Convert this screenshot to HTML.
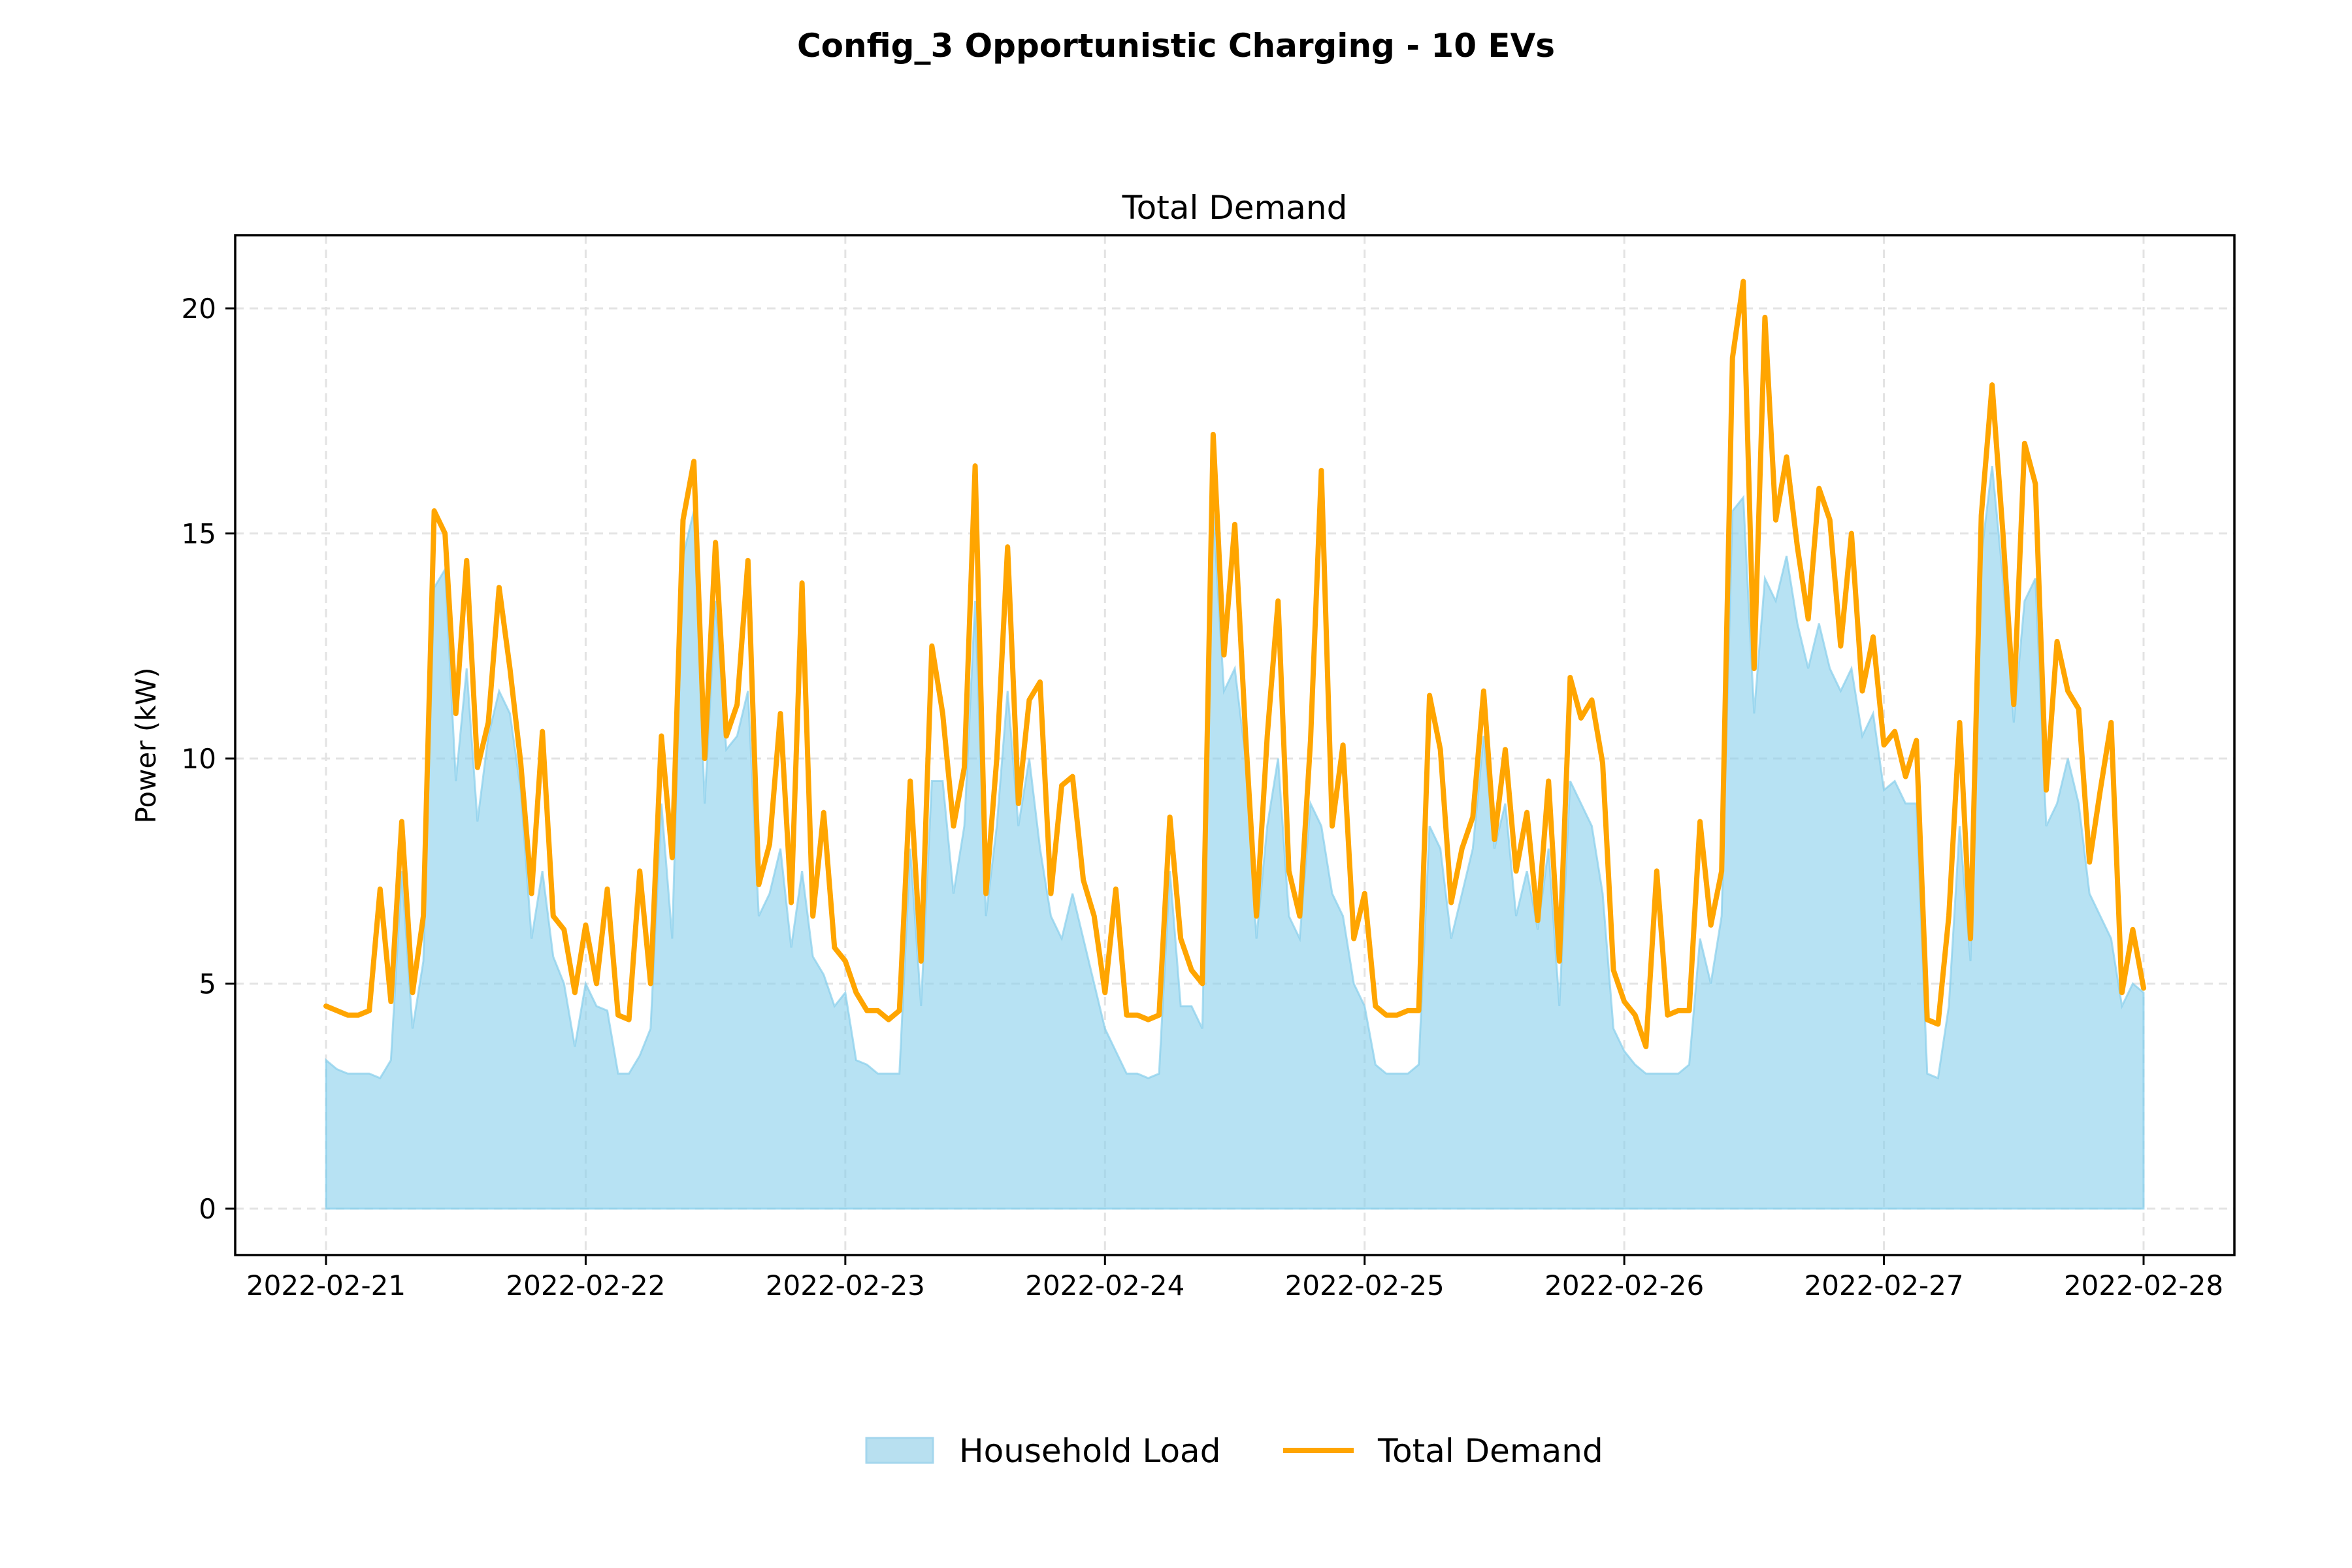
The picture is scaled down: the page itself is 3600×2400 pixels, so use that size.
<!DOCTYPE html>
<html><head><meta charset="utf-8"><style>
html,body{margin:0;padding:0;background:#fff;}
svg{display:block;font-family:"DejaVu Sans","Liberation Sans",sans-serif;}
</style></head><body>
<svg id="chart" width="3600" height="2400" viewBox="0 0 3600 2400" xmlns="http://www.w3.org/2000/svg">
<rect width="3600" height="2400" fill="#fff"/>
<text x="1800" y="87" text-anchor="middle" font-size="50" font-weight="bold">Config_3 Opportunistic Charging - 10 EVs</text>
<text x="1890" y="335" text-anchor="middle" font-size="50">Total Demand</text>
<g id="grid"></g>
<g id="series"></g>
<rect x="360" y="360" width="3060" height="1561" fill="none" stroke="#000" stroke-width="3.5"/>
<g id="axes"></g>
<text transform="translate(238,1141) rotate(-90)" text-anchor="middle" font-size="42">Power (kW)</text>
<g>
<g>
<rect x="1326" y="2201" width="102" height="38" fill="#b8e0f0" stroke="#a3d6ed" stroke-width="3"/>
<text x="1468" y="2238" font-size="50">Household Load</text>
</g>
<g>
<line x1="1964" y1="2220" x2="2072" y2="2220" stroke="#ffa500" stroke-width="8"/>
<text x="2109" y="2238" font-size="50">Total Demand</text>
</g>
</g>
</svg>
<script>
const dateLabels = ["2022-02-21","2022-02-22","2022-02-23","2022-02-24","2022-02-25","2022-02-26","2022-02-27","2022-02-28"];
const yTicks = [0,5,10,15,20];
const totalDemand = [
4.5,4.4,4.3,4.3,4.4,7.1,4.6,8.6,4.8,6.5,15.5,15.0,11.0,14.4,9.8,10.8,13.8,12.0,9.9,7.0,10.6,6.5,6.2,4.8,
6.3,5.0,7.1,4.3,4.2,7.5,5.0,10.5,7.8,15.3,16.6,10.0,14.8,10.5,11.2,14.4,7.2,8.1,11.0,6.8,13.9,6.5,8.8,5.8,
5.5,4.8,4.4,4.4,4.2,4.4,9.5,5.5,12.5,11.0,8.5,9.8,16.5,7.0,10.0,14.7,9.0,11.3,11.7,7.0,9.4,9.6,7.3,6.5,
4.8,7.1,4.3,4.3,4.2,4.3,8.7,6.0,5.3,5.0,17.2,12.3,15.2,10.5,6.5,10.5,13.5,7.5,6.5,10.4,16.4,8.5,10.3,6.0,
7.0,4.5,4.3,4.3,4.4,4.4,11.4,10.2,6.8,8.0,8.7,11.5,8.2,10.2,7.5,8.8,6.4,9.5,5.5,11.8,10.9,11.3,9.9,5.3,
4.6,4.3,3.6,7.5,4.3,4.4,4.4,8.6,6.3,7.5,18.9,20.6,12.0,19.8,15.3,16.7,14.7,13.1,16.0,15.3,12.5,15.0,11.5,12.7,
10.3,10.6,9.6,10.4,4.2,4.1,6.5,10.8,6.0,15.4,18.3,15.0,11.2,17.0,16.1,9.3,12.6,11.5,11.1,7.7,9.3,10.8,4.8,6.2,4.9];
const householdLoad = [
3.3,3.1,3.0,3.0,3.0,2.9,3.3,7.5,4.0,5.5,13.8,14.2,9.5,12.0,8.6,10.5,11.5,11.0,9.3,6.0,7.5,5.6,5.0,3.6,
5.0,4.5,4.4,3.0,3.0,3.4,4.0,9.0,6.0,14.5,15.5,9.0,13.5,10.2,10.5,11.5,6.5,7.0,8.0,5.8,7.5,5.6,5.2,4.5,
4.8,3.3,3.2,3.0,3.0,3.0,8.0,4.5,9.5,9.5,7.0,8.5,13.5,6.5,8.5,11.5,8.5,10.0,8.0,6.5,6.0,7.0,6.0,5.0,
4.0,3.5,3.0,3.0,2.9,3.0,7.5,4.5,4.5,4.0,15.5,11.5,12.0,10.0,6.0,8.5,10.0,6.5,6.0,9.0,8.5,7.0,6.5,5.0,
4.5,3.2,3.0,3.0,3.0,3.2,8.5,8.0,6.0,7.0,8.0,10.5,8.0,9.0,6.5,7.5,6.2,8.0,4.5,9.5,9.0,8.5,7.0,4.0,
3.5,3.2,3.0,3.0,3.0,3.0,3.2,6.0,5.0,6.5,15.5,15.8,11.0,14.0,13.5,14.5,13.0,12.0,13.0,12.0,11.5,12.0,10.5,11.0,
9.3,9.5,9.0,9.0,3.0,2.9,4.5,8.5,5.5,14.5,16.5,14.0,10.8,13.5,14.0,8.5,9.0,10.0,9.0,7.0,6.5,6.0,4.5,5.0,4.8];

const NS="http://www.w3.org/2000/svg";
const X0=499, X1=3281, Y0=1850, PERKW=68.9;
function xScale(h){ return X0 + h/(24*7)*(X1-X0); }
function yScale(v){ return Y0 - v*PERKW; }
function mk(tag, attrs, parent){ const e=document.createElementNS(NS,tag); for(const k in attrs) e.setAttribute(k,attrs[k]); parent.appendChild(e); return e; }
const grid=document.getElementById('grid'), series=document.getElementById('series'), axes=document.getElementById('axes');

yTicks.forEach(v=>{
  const y=yScale(v);
  const g=mk('line',{x1:360,x2:3420,y1:y,y2:y,stroke:'#e3e3e3','stroke-width':3,'stroke-dasharray':'13 9'},grid);
  
  
  const t=mk('line',{x1:345,x2:360,y1:y,y2:y,stroke:'#000','stroke-width':3},axes);
  
  
  const l=mk('text',{x:331,y:y+15,'text-anchor':'end','font-size':42},axes);
  l.textContent=v;
  
  
});
dateLabels.forEach((d,i)=>{
  const x=xScale(i*24);
  const g=mk('line',{x1:x,x2:x,y1:360,y2:1921,stroke:'#e3e3e3','stroke-width':3,'stroke-dasharray':'13 9'},grid);
  
  
  const t=mk('line',{x1:x,x2:x,y1:1921,y2:1936,stroke:'#000','stroke-width':3},axes);
  
  
  const l=mk('text',{x:x,y:1982,'text-anchor':'middle','font-size':42},axes);
  l.textContent=d;
  
  
});

let ptsH=householdLoad.map((v,i)=>xScale(i)+','+yScale(v));
let area='M'+xScale(0)+','+yScale(0)+' L'+ptsH.join(' L')+' L'+xScale(householdLoad.length-1)+','+yScale(0)+' Z';
const a=mk('path',{d:area,fill:'#87ceeb','fill-opacity':0.6,stroke:'#87ceeb','stroke-opacity':0.7,'stroke-width':3},series);


const ptsT=totalDemand.map((v,i)=>xScale(i)+','+yScale(v));
const ln=mk('polyline',{points:ptsT.join(' '),fill:'none',stroke:'#ffa500','stroke-width':8,'stroke-linejoin':'round','stroke-linecap':'round'},series);


</script>
</body></html>
